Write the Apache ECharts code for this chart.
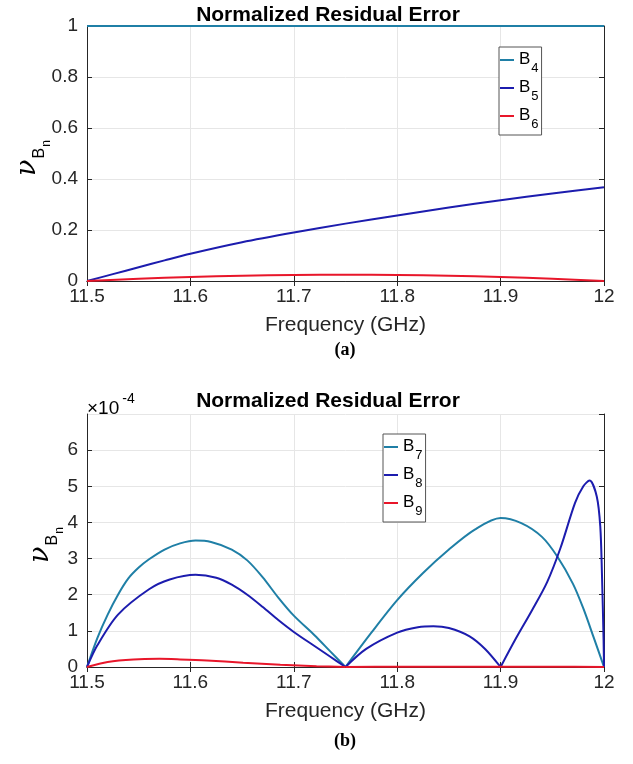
<!DOCTYPE html>
<html><head><meta charset="utf-8">
<script src="https://cdn.jsdelivr.net/npm/echarts@6/dist/echarts.min.js"></script>
<style>html,body{margin:0;padding:0;background:#fff}#c{width:633px;height:764px}</style>
</head><body><div id="c"></div>
<script>
// ---- data ----
const xTickValues = [11.5, 11.6, 11.7, 11.8, 11.9, 12];
const topYTicks = [0, 0.2, 0.4, 0.6, 0.8, 1];
const botYTicks = [0, 1, 2, 3, 4, 5, 6];

const freqB4 = [11.5, 12];
const valB4 = [1, 1];

const freqB5 = [11.5, 11.525, 11.55, 11.575, 11.6, 11.65, 11.7, 11.75, 11.8, 11.85, 11.9, 11.95, 12];
const valB5 = [0, 0.027, 0.054, 0.081, 0.107, 0.152, 0.19, 0.225, 0.257, 0.288, 0.317, 0.343, 0.368];

const freqB6 = [11.5, 11.55, 11.6, 11.65, 11.7, 11.75, 11.8, 11.85, 11.9, 11.95, 12];
const valB6 = [0, 0.009, 0.016, 0.021, 0.024, 0.025, 0.024, 0.021, 0.016, 0.009, 0];

// bottom panel values in units of 1e-4
const freqB7 = [11.5, 11.51, 11.52, 11.53, 11.54, 11.55, 11.56, 11.575, 11.59, 11.605, 11.62, 11.64, 11.655, 11.67, 11.685, 11.7, 11.72, 11.735, 11.75,
  11.775, 11.8, 11.825, 11.85, 11.875, 11.9, 11.92, 11.94, 11.955, 11.97, 11.98, 11.99, 12];
const valB7 = [0, 0.8, 1.45, 2.0, 2.45, 2.75, 2.98, 3.25, 3.42, 3.5, 3.46, 3.25, 2.95, 2.48, 1.92, 1.42, 0.88, 0.44, 0,
  0.95, 1.85, 2.6, 3.25, 3.8, 4.12, 3.98, 3.6, 3.05, 2.3, 1.62, 0.82, 0];

const freqB8 = [11.5, 11.51, 11.53, 11.56, 11.58, 11.605, 11.625, 11.64, 11.655, 11.67, 11.685, 11.7, 11.72, 11.735, 11.75,
  11.77, 11.8, 11.82, 11.835, 11.85, 11.87, 11.885, 11.9,
  11.915, 11.93, 11.945, 11.958, 11.972, 11.98, 11.986, 11.993, 11.9964, 11.998, 11.9996, 12];
const valB8 = [0, 0.6, 1.45, 2.15, 2.42, 2.55, 2.47, 2.28, 2.0, 1.66, 1.3, 0.97, 0.58, 0.29, 0,
  0.5, 0.95, 1.1, 1.13, 1.08, 0.85, 0.5, 0,
  0.8, 1.55, 2.35, 3.3, 4.54, 5.0, 5.16, 4.72, 3.89, 2.6, 0.74, 0];

const freqB9 = [11.5, 11.52, 11.545, 11.57, 11.59, 11.616, 11.651, 11.687, 11.722, 11.75, 11.8, 11.9, 11.95, 12];
const valB9 = [0, 0.14, 0.21, 0.225, 0.21, 0.18, 0.12, 0.06, 0.02, 0, 0.005, 0.005, 0.01, 0];

const titleText = 'Normalized Residual Error';
const xLabelText = 'Frequency (GHz)';

// ---- styles ----
const TEAL = '#1f7fa6', BLUE = '#1c1cae', RED = '#e8162a';
const AX = '#262626', GRIDC = '#e6e6e6';
const SANS = 'Liberation Sans, Arial, Helvetica, sans-serif';
const zip = (a, b) => a.map((v, i) => [v, b[i]]);

// split a curve at interior zero minima so each arch is smoothed separately (keeps the cusps sharp)
function arches(fx, vy) {
  const pts = zip(fx, vy), out = [];
  let cur = [pts[0]];
  for (let i = 1; i < pts.length; i++) {
    cur.push(pts[i]);
    if (i < pts.length - 1 && vy[i] === 0 && vy[i - 1] > 0 && vy[i + 1] > 0) { out.push(cur); cur = [pts[i]]; }
  }
  out.push(cur);
  return out;
}

const grids = [
  { left: 87, right: 29, top: 26, height: 255 },
  { left: 87, right: 29, top: 414, height: 253 }
];

function xAxes(gi) {
  const base = { type: 'value', gridIndex: gi, min: xTickValues[0], max: xTickValues[xTickValues.length - 1], interval: 0.1 };
  return [
    Object.assign({}, base, {
      position: 'bottom',
      axisLine: { show: true, lineStyle: { color: AX, width: 1 } },
      axisTick: { show: true, inside: true, length: 5, lineStyle: { color: AX } },
      axisLabel: { color: AX, fontSize: 19, fontFamily: SANS, margin: 6,
        formatter: v => String(+(+v).toFixed(1)) },
      splitLine: { show: true, lineStyle: { color: GRIDC, width: 1 } },
      name: xLabelText, nameLocation: 'middle', nameGap: 34,
      nameTextStyle: { color: AX, fontSize: 21, fontFamily: SANS }
    }),
    Object.assign({}, base, {
      position: 'top',
      axisLine: { show: true, lineStyle: { color: AX, width: 1 } },
      axisTick: { show: true, inside: true, length: 5, lineStyle: { color: AX } },
      axisLabel: { show: false }, splitLine: { show: false }
    })
  ];
}
function yAxes(gi, ticks, max) {
  const interval = ticks[1] - ticks[0];
  const base = { type: 'value', gridIndex: gi, min: ticks[0], max: max, interval: interval };
  return [
    Object.assign({}, base, {
      position: 'left',
      axisLine: { show: true, lineStyle: { color: AX, width: 1 } },
      axisTick: { show: true, inside: true, length: 5, lineStyle: { color: AX } },
      axisLabel: { color: AX, fontSize: 19, fontFamily: SANS, margin: 9, showMaxLabel: max === ticks[ticks.length - 1],
        formatter: v => String(+(+v).toFixed(1)) },
      splitLine: { show: true, lineStyle: { color: GRIDC, width: 1 } }
    }),
    Object.assign({}, base, {
      position: 'right',
      axisLine: { show: true, lineStyle: { color: AX, width: 1 } },
      axisTick: { show: true, inside: true, length: 5, lineStyle: { color: AX } },
      axisLabel: { show: false }, splitLine: { show: false }
    })
  ];
}

function lineSeries(name, fx, vy, color, xi, yi, clip) {
  return arches(fx, vy).map(seg => ({ name, type: 'line', xAxisIndex: xi, yAxisIndex: yi, data: seg,
    showSymbol: false, symbol: 'none', smooth: 0.3, clip: clip !== false,
    lineStyle: { color, width: 2 }, itemStyle: { color }, z: 5 }));
}

const legendRich = {
  b: { fontSize: 17, fontFamily: SANS, color: '#000', lineHeight: 18, verticalAlign: 'top' },
  s: { fontSize: 13, fontFamily: SANS, color: '#000', lineHeight: 13, padding: [11, 0, 0, 1], verticalAlign: 'top' }
};
function legend(names, left, top) {
  return {
    data: names, orient: 'vertical', left, top, icon: 'rect', itemWidth: 14, itemHeight: 2,
    itemGap: 4, padding: [4, 3, 4, 1], borderColor: '#555', borderWidth: 1, backgroundColor: '#fff',
    selectedMode: false,
    formatter: n => '{b|B}{s|' + n.slice(1) + '}',
    textStyle: { rich: legendRich }
  };
}

const yNameRich = {
  nu: { fontSize: 27, fontFamily: 'DejaVu Serif, Liberation Serif, serif', fontStyle: 'italic', color: '#000', lineHeight: 27, verticalAlign: 'top' },
  b: { fontSize: 16, fontFamily: SANS, color: '#000', lineHeight: 16, padding: [17, 0, 0, 1], verticalAlign: 'top' },
  n: { fontSize: 12, fontFamily: SANS, color: '#000', lineHeight: 12, padding: [26, 0, 0, 1], verticalAlign: 'top' }
};

const chart = echarts.init(document.getElementById('c'), null, { renderer: 'canvas' });
chart.setOption({
  animation: false,
  backgroundColor: '#fff',
  title: [
    { text: titleText, left: 323, top: 0, textAlign: 'center', textStyle: { fontSize: 21, fontWeight: 'bold', color: '#000', fontFamily: SANS } },
    { text: titleText, left: 323, top: 386, textAlign: 'center', textStyle: { fontSize: 21, fontWeight: 'bold', color: '#000', fontFamily: SANS } }
  ],
  grid: grids,
  xAxis: [...xAxes(0), ...xAxes(1)],
  yAxis: [...yAxes(0, topYTicks, 1), ...yAxes(1, botYTicks, 7)],
  legend: [legend(['B4', 'B5', 'B6'], 499, 47), legend(['B7', 'B8', 'B9'], 383, 434)],
  series: [
    ...lineSeries('B4', freqB4, valB4, TEAL, 0, 0, false),
    ...lineSeries('B5', freqB5, valB5, BLUE, 0, 0),
    ...lineSeries('B6', freqB6, valB6, RED, 0, 0),
    ...lineSeries('B7', freqB7, valB7, TEAL, 2, 2),
    ...lineSeries('B8', freqB8, valB8, BLUE, 2, 2),
    ...lineSeries('B9', freqB9, valB9, RED, 2, 2)
  ],
  graphic: [
    { type: 'text', x: 28, y: 158, rotation: Math.PI / 2,
      style: { text: '{nu|ν}{b|B}{n|n}', rich: yNameRich, align: 'center', verticalAlign: 'middle' } },
    { type: 'text', x: 41, y: 545, rotation: Math.PI / 2,
      style: { text: '{nu|ν}{b|B}{n|n}', rich: yNameRich, align: 'center', verticalAlign: 'middle' } },
    { type: 'text', x: 87, y: 392,
      style: { text: '{a|×10}{e|-4}', rich: {
        a: { fontSize: 19, fontFamily: SANS, color: AX, lineHeight: 19, padding: [7, 0, 0, 0], verticalAlign: 'top' },
        e: { fontSize: 14, fontFamily: SANS, color: AX, lineHeight: 14, padding: [0, 0, 0, 3], verticalAlign: 'top' } } } },
    { type: 'text', x: 345, y: 350, style: { text: '(a)', font: 'bold 18px "Liberation Serif", "Times New Roman", serif', fill: '#000', align: 'center', verticalAlign: 'middle' } },
    { type: 'text', x: 345, y: 741, style: { text: '(b)', font: 'bold 18px "Liberation Serif", "Times New Roman", serif', fill: '#000', align: 'center', verticalAlign: 'middle' } }
  ]
});
</script>
</body></html>
